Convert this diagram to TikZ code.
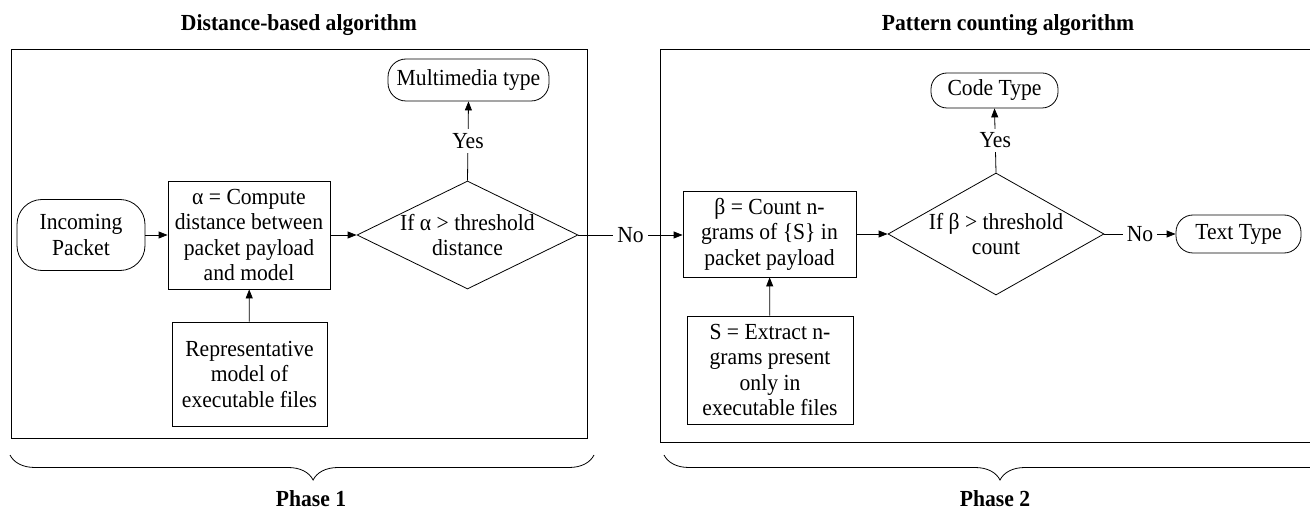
\documentclass[tikz,border=0pt]{standalone}
\usepackage{fontspec}
\setmainfont{Liberation Serif}[FakeStretch=0.94]
\usetikzlibrary{shapes.geometric,arrows.meta,decorations.pathreplacing}

\begin{document}
\begin{tikzpicture}[x=1pt,y=-1pt,
  font=\fontsize{23}{25.5}\selectfont,
  line width=0.8pt,
  proc/.style={draw, align=center, inner sep=0pt},
  term/.style={draw, align=center, inner sep=0pt},
  decision/.style={draw, diamond, align=center, inner sep=0pt},
  flow/.style={-{Triangle[length=9pt,width=7pt]}},
  lbl/.style={fill=white, inner sep=4pt},
  phasebrace/.style={decorate, decoration={brace, mirror, amplitude=25pt}}]
\useasboundingbox (0,0) rectangle (1310,513);
\clip (0,0) rectangle (1310,513);
\draw (11,49) rectangle (587,438);
\draw (660,49) rectangle (1320,442);
\node[font=\fontsize{23}{25.5}\selectfont\bfseries] (title1) at (299,25) {Distance-based algorithm};
\node[font=\fontsize{23}{25.5}\selectfont\bfseries] (title2) at (1008,25) {Pattern counting algorithm};
\node[term, rounded corners=25pt, minimum width=128pt, minimum height=71pt] (packet) at (81,235) {Incoming\\Packet};
\node[proc, minimum width=162pt, minimum height=108pt] (dist) at (249,235) {α = Compute\\distance between\\packet payload\\and model};
\node[decision, aspect=2.05, minimum width=221pt, minimum height=108pt] (dec1) at (467.5,235) {If α > threshold\\distance};
\node[term, rounded corners=18pt, minimum width=161pt, minimum height=42pt] (media) at (468.5,80) {Multimedia type};
\node[proc, minimum width=155pt, minimum height=104pt] (model) at (249.5,374) {Representative\\model of\\executable files};
\node[proc, minimum width=173pt, minimum height=86pt] (count) at (769.5,234) {β = Count n-\\grams of \{S\} in\\packet payload};
\node[proc, minimum width=166pt, minimum height=108pt] (extract) at (770,370) {S = Extract n-\\grams present\\only in\\executable files};
\node[decision, aspect=1.77, minimum width=216pt, minimum height=122pt] (dec2) at (996,234) {If β > threshold\\count};
\node[term, rounded corners=16pt, minimum width=127pt, minimum height=35pt] (code) at (994.5,90.5) {Code Type};
\node[term, rounded corners=17pt, minimum width=125pt, minimum height=38pt] (text) at (1238.5,234) {Text Type};
\draw[flow] (packet) -- (dist);
\draw[flow] (dist) -- (dec1);
\draw[flow] (model) -- (dist);
\draw[flow] (dec1.north) -- node[lbl] {Yes} (media.south);
\draw[flow] (dec1.east) -- node[lbl] {No} (dec1.east -| count.west);
\draw[flow] (count) -- (dec2);
\draw[flow] (extract) -- (count);
\draw[flow] (dec2.north) -- node[lbl] {Yes} (code.south);
\draw[flow] (dec2.east) -- node[lbl] {No} (text.west);
\draw[phasebrace, decoration={aspect=0.519}] (10,455) -- (594,455);
\draw[phasebrace] (664,455) -- (1336,455);
\node[font=\fontsize{23}{25.5}\selectfont\bfseries] (phase1) at (311,499) {Phase 1};
\node[font=\fontsize{23}{25.5}\selectfont\bfseries] (phase2) at (995,499) {Phase 2};
\end{tikzpicture}
\end{document}
